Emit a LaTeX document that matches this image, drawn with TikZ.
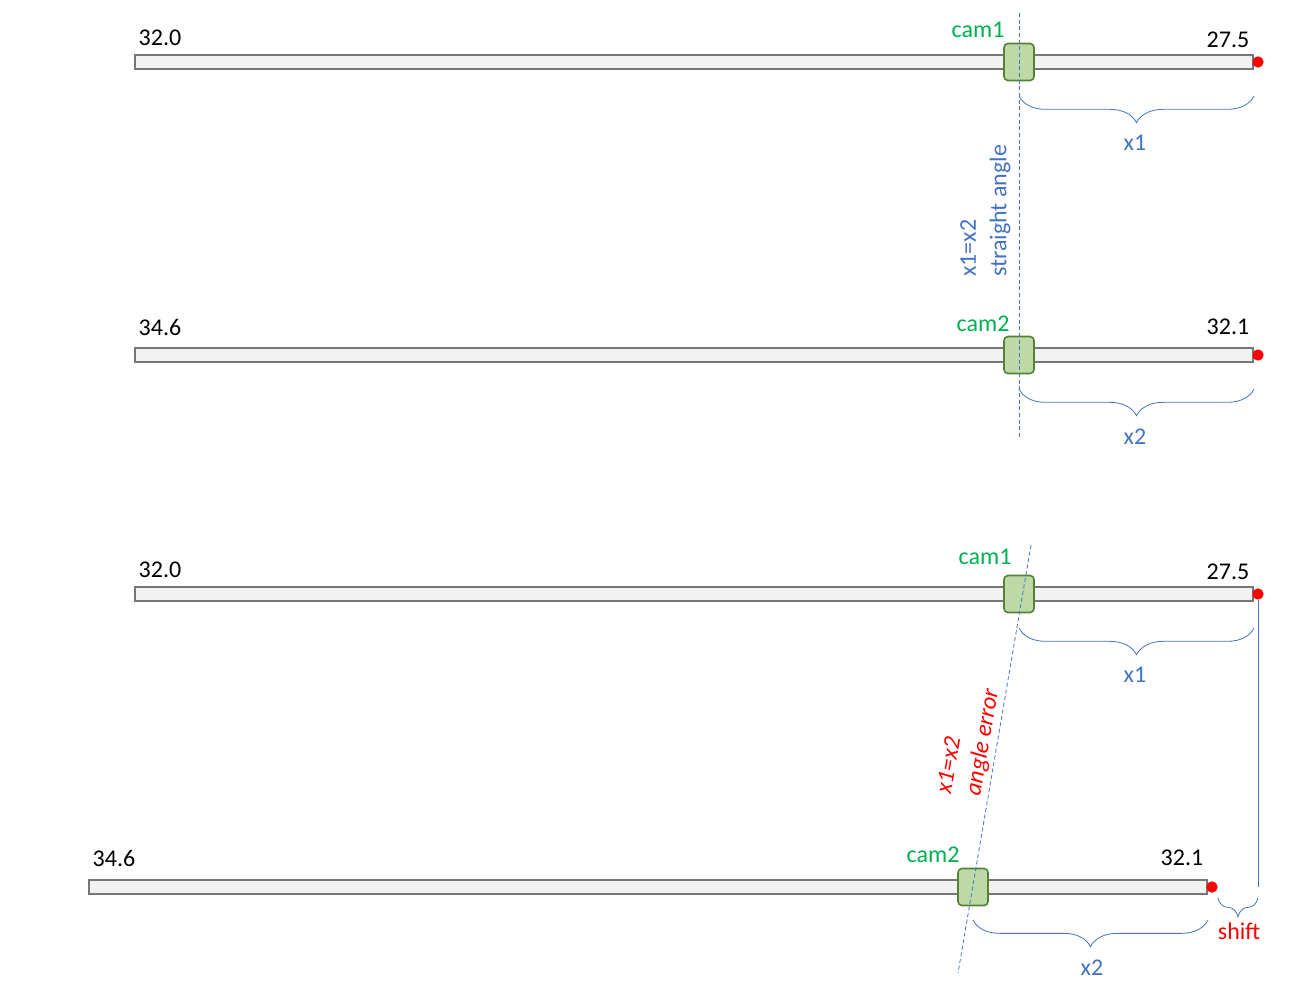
\documentclass[tikz,border=0pt]{standalone}
\usepackage{fontspec}
\setmainfont{Carlito}
\usetikzlibrary{decorations.pathreplacing}

\definecolor{barfill}{RGB}{242,242,242}
\definecolor{bardraw}{RGB}{118,118,118}
\definecolor{camfill}{RGB}{190,216,168}
\definecolor{camdraw}{RGB}{84,130,53}
\definecolor{camgreen}{RGB}{0,176,80}
\definecolor{dimblue}{RGB}{68,114,196}

\tikzset{
  bar/.style={draw=bardraw, fill=barfill, line width=1.5pt, inner sep=0pt,
    minimum width=838.5pt, minimum height=10.5pt},
  cam/.style={draw=camdraw, fill=camfill, line width=1.2pt, rounded corners=3pt,
    inner sep=0pt, minimum width=22.5pt, minimum height=27.75pt},
  enddot/.style={circle, fill=red, inner sep=0pt, minimum size=8.5pt},
  num/.style={inner sep=0pt, text=black},
  camtext/.style={inner sep=0pt, text=camgreen},
  dimtext/.style={inner sep=0pt, text=dimblue},
  errtext/.style={inner sep=0pt, text=red, font=\fontsize{18}{21}\selectfont\itshape},
  dimbrace/.style={draw=dimblue, line width=0.6pt, decorate,
    decoration={brace, mirror, amplitude=20pt}},
  guide/.style={draw=dimblue, line width=0.6pt, dash pattern=on 3pt off 2pt},
}

\begin{document}
\begin{tikzpicture}[x=0.75pt, y=-0.75pt, font=\fontsize{18}{21}\selectfont]

\useasboundingbox (0,0) rectangle (1316,1004);

% Top pair: straight angle
\node[bar] (bar1) at (694,62) {};
\node[enddot] (tip1) at (1258,62) {};
\node[cam] (cam1) at (1019,62) {};
\node[num] (l1) at (160,38) {32.0};
\node[num] (r1) at (1228,40) {27.5};
\node[camtext] (c1) at (978,30) {cam1};

\node[bar] (bar2) at (694,355) {};
\node[enddot] (tip2) at (1258,355) {};
\node[cam] (cam2) at (1019,355) {};
\node[num] (l2) at (160,327) {34.6};
\node[num] (r2) at (1228,327) {32.1};
\node[camtext] (c2) at (983,324) {cam2};

% Vertical guide
\coordinate (g1) at (1019,13);
\coordinate (g2) at (1019,437);
\draw[guide] (g1) -- (g2);

% Distances
\draw[dimbrace] (cam1 |- 0,96) -- (bar1.east |- 0,96);
\node[dimtext] (d1) at (1135,143) {x1};
\draw[dimbrace] (cam2 |- 0,389) -- (bar2.east |- 0,389);
\node[dimtext] (d2) at (1135,437) {x2};

\node[dimtext, rotate=90, anchor=west] (n1) at (968,277) {x1=x2};
\node[dimtext, rotate=90, anchor=west] (n2) at (1000,277) {straight angle};

% Bottom pair: angle error
\node[bar] (bar3) at (694,594) {};
\node[enddot] (tip3) at (1258,594) {};
\node[cam] (cam3) at (1019,594) {};
\node[num] (l3) at (160,570) {32.0};
\node[num] (r3) at (1228,572) {27.5};
\node[camtext] (c3) at (985,557) {cam1};

\node[bar] (bar4) at (648,887) {};
\node[enddot] (tip4) at (1212,887) {};
\node[cam] (cam4) at (973,887) {};
\node[num] (l4) at (114,858) {34.6};
\node[num] (r4) at (1182,858) {32.1};
\node[camtext] (c4) at (933,855) {cam2};

% Slanted guide
\coordinate (s1) at (1031,545);
\coordinate (s2) at (958,973);
\draw[guide] (s1) -- (s2);

% Distances
\draw[dimbrace] (cam3 |- 0,628) -- (bar3.east |- 0,628);
\node[dimtext] (d3) at (1135,675) {x1};
\draw[dimbrace] (cam4 |- 0,920) -- (bar4.east |- 0,920);
\node[dimtext] (d4) at (1092,968) {x2};

\node[errtext, rotate=80.3] (e1) at (948,765) {x1=x2};
\node[errtext, rotate=80.3] (e2) at (983,742) {angle error};

% Shift
\draw[dimblue, line width=0.6pt] (tip3.south) -- (tip3 |- tip4);
\draw[dimbrace, decoration={brace, mirror, amplitude=14pt}] (tip4.east |- 0,898) -- (tip3 |- 0,898);
\node[errtext, font=\fontsize{18}{21}\selectfont] (sh) at (1239,931) {shift};

\end{tikzpicture}
\end{document}
